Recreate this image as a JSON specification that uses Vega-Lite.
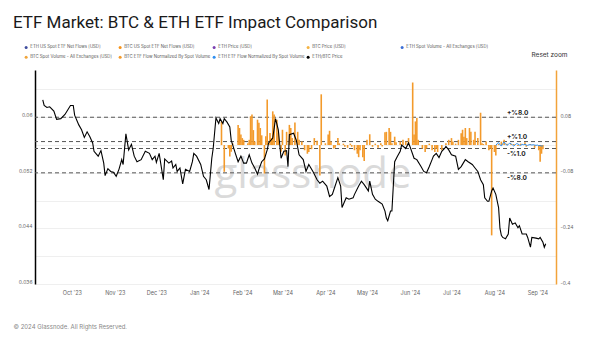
{
  "$schema": "https://vega.github.io/schema/vega-lite/v6.json",
  "width": 521,
  "height": 214,
  "autosize": {"type": "none"},
  "padding": {"left": 35, "top": 70, "right": 44, "bottom": 62},
  "background": "white",
  "title": {"text": "ETF Market: BTC & ETH ETF Impact Comparison", "anchor": "start", "frame": "group", "dx": -22, "dy": -9, "fontSize": 17, "font": "Roboto", "fontWeight": 400, "color": "#1a1a1a"},
  "config": {
    "view": {"stroke": null},
    "font": "Inter",
    "axisX": {"grid": false, "ticks": false, "domain": false, "labelFontSize": 5.5, "labelColor": "#666666", "labelPadding": 6, "labelFont": "Inter", "titleX": -22, "titleY": 42, "titleAlign": "left", "titleAnchor": "start", "titleBaseline": "middle", "titleFontSize": 6, "titleFontWeight": "normal", "titleColor": "#888888", "titleFont": "Inter"}
  },
  "datasets": {
    "wm": [{"wm": "glassnode"}],
    "levels": [
      {"level": 0.08, "label": "+%8.0"},
      {"level": 0.01, "label": "+%1.0"},
      {"level": -0.01, "label": "-%1.0"},
      {"level": -0.08, "label": "-%8.0"}
    ],
    "ethbtc": [
      {"date": "2023-09-10", "v": 0.0625}, {"date": "2023-09-11", "v": 0.0617}, {"date": "2023-09-13", "v": 0.0614}, {"date": "2023-09-15", "v": 0.0615},
      {"date": "2023-09-18", "v": 0.0609}, {"date": "2023-09-20", "v": 0.0597}, {"date": "2023-09-23", "v": 0.0598}, {"date": "2023-09-26", "v": 0.0604},
      {"date": "2023-09-30", "v": 0.0617}, {"date": "2023-10-02", "v": 0.0617}, {"date": "2023-10-03", "v": 0.0603}, {"date": "2023-10-06", "v": 0.0589},
      {"date": "2023-10-08", "v": 0.0582}, {"date": "2023-10-10", "v": 0.0571}, {"date": "2023-10-12", "v": 0.0579}, {"date": "2023-10-14", "v": 0.0572},
      {"date": "2023-10-16", "v": 0.0563}, {"date": "2023-10-17", "v": 0.0551}, {"date": "2023-10-20", "v": 0.0544}, {"date": "2023-10-22", "v": 0.0552},
      {"date": "2023-10-24", "v": 0.0534}, {"date": "2023-10-25", "v": 0.0516}, {"date": "2023-10-27", "v": 0.0526}, {"date": "2023-10-29", "v": 0.0522},
      {"date": "2023-10-31", "v": 0.0521}, {"date": "2023-11-02", "v": 0.0515}, {"date": "2023-11-04", "v": 0.0525}, {"date": "2023-11-06", "v": 0.0539},
      {"date": "2023-11-07", "v": 0.0532}, {"date": "2023-11-09", "v": 0.0576}, {"date": "2023-11-11", "v": 0.0553}, {"date": "2023-11-13", "v": 0.0561},
      {"date": "2023-11-15", "v": 0.0544}, {"date": "2023-11-17", "v": 0.0536}, {"date": "2023-11-20", "v": 0.0539}, {"date": "2023-11-23", "v": 0.0551},
      {"date": "2023-11-26", "v": 0.0548}, {"date": "2023-11-28", "v": 0.0539}, {"date": "2023-11-30", "v": 0.0544}, {"date": "2023-12-01", "v": 0.0535},
      {"date": "2023-12-03", "v": 0.0548}, {"date": "2023-12-06", "v": 0.0510}, {"date": "2023-12-07", "v": 0.0540}, {"date": "2023-12-10", "v": 0.0534},
      {"date": "2023-12-12", "v": 0.0537}, {"date": "2023-12-13", "v": 0.0527}, {"date": "2023-12-15", "v": 0.0532}, {"date": "2023-12-16", "v": 0.0522},
      {"date": "2023-12-18", "v": 0.0527}, {"date": "2023-12-20", "v": 0.0504}, {"date": "2023-12-22", "v": 0.0525}, {"date": "2023-12-25", "v": 0.0522},
      {"date": "2023-12-27", "v": 0.0536}, {"date": "2023-12-28", "v": 0.0548}, {"date": "2023-12-30", "v": 0.0544}, {"date": "2024-01-02", "v": 0.0532},
      {"date": "2024-01-04", "v": 0.0515}, {"date": "2024-01-06", "v": 0.0510}, {"date": "2024-01-08", "v": 0.0496}, {"date": "2024-01-10", "v": 0.0541},
      {"date": "2024-01-11", "v": 0.0555}, {"date": "2024-01-13", "v": 0.0599}, {"date": "2024-01-15", "v": 0.0591}, {"date": "2024-01-16", "v": 0.0598},
      {"date": "2024-01-18", "v": 0.0591}, {"date": "2024-01-19", "v": 0.0598}, {"date": "2024-01-21", "v": 0.0593}, {"date": "2024-01-23", "v": 0.0586},
      {"date": "2024-01-24", "v": 0.0567}, {"date": "2024-01-27", "v": 0.0548}, {"date": "2024-01-29", "v": 0.0536}, {"date": "2024-01-31", "v": 0.0544},
      {"date": "2024-02-02", "v": 0.0534}, {"date": "2024-02-04", "v": 0.0534}, {"date": "2024-02-06", "v": 0.0546}, {"date": "2024-02-08", "v": 0.0534},
      {"date": "2024-02-10", "v": 0.0527}, {"date": "2024-02-12", "v": 0.0518}, {"date": "2024-02-13", "v": 0.0525}, {"date": "2024-02-15", "v": 0.0536},
      {"date": "2024-02-17", "v": 0.0540}, {"date": "2024-02-19", "v": 0.0553}, {"date": "2024-02-20", "v": 0.0563}, {"date": "2024-02-23", "v": 0.0570},
      {"date": "2024-02-25", "v": 0.0598}, {"date": "2024-02-27", "v": 0.0582}, {"date": "2024-02-29", "v": 0.0541}, {"date": "2024-03-02", "v": 0.0551},
      {"date": "2024-03-04", "v": 0.0552}, {"date": "2024-03-05", "v": 0.0529}, {"date": "2024-03-06", "v": 0.0575}, {"date": "2024-03-09", "v": 0.0577},
      {"date": "2024-03-11", "v": 0.0567}, {"date": "2024-03-13", "v": 0.0546}, {"date": "2024-03-16", "v": 0.0539}, {"date": "2024-03-18", "v": 0.0522},
      {"date": "2024-03-20", "v": 0.0532}, {"date": "2024-03-23", "v": 0.0522}, {"date": "2024-03-26", "v": 0.0510}, {"date": "2024-03-28", "v": 0.0505},
      {"date": "2024-03-30", "v": 0.0508}, {"date": "2024-04-02", "v": 0.0501}, {"date": "2024-04-04", "v": 0.0486}, {"date": "2024-04-06", "v": 0.0489},
      {"date": "2024-04-08", "v": 0.0501}, {"date": "2024-04-10", "v": 0.0513}, {"date": "2024-04-12", "v": 0.0501}, {"date": "2024-04-13", "v": 0.0470},
      {"date": "2024-04-16", "v": 0.0484}, {"date": "2024-04-18", "v": 0.0482}, {"date": "2024-04-21", "v": 0.0484}, {"date": "2024-04-22", "v": 0.0489},
      {"date": "2024-04-25", "v": 0.0501}, {"date": "2024-04-27", "v": 0.0508}, {"date": "2024-04-29", "v": 0.0503}, {"date": "2024-05-02", "v": 0.0494},
      {"date": "2024-05-03", "v": 0.0508}, {"date": "2024-05-05", "v": 0.0489}, {"date": "2024-05-07", "v": 0.0482}, {"date": "2024-05-09", "v": 0.0479},
      {"date": "2024-05-12", "v": 0.0475}, {"date": "2024-05-14", "v": 0.0465}, {"date": "2024-05-15", "v": 0.0455}, {"date": "2024-05-16", "v": 0.0451},
      {"date": "2024-05-18", "v": 0.0465}, {"date": "2024-05-19", "v": 0.0465}, {"date": "2024-05-21", "v": 0.0536}, {"date": "2024-05-23", "v": 0.0544},
      {"date": "2024-05-25", "v": 0.0551}, {"date": "2024-05-26", "v": 0.0560}, {"date": "2024-05-29", "v": 0.0555}, {"date": "2024-05-31", "v": 0.0563},
      {"date": "2024-06-01", "v": 0.0558}, {"date": "2024-06-04", "v": 0.0541}, {"date": "2024-06-06", "v": 0.0539}, {"date": "2024-06-09", "v": 0.0529},
      {"date": "2024-06-11", "v": 0.0522}, {"date": "2024-06-13", "v": 0.0520}, {"date": "2024-06-15", "v": 0.0529}, {"date": "2024-06-17", "v": 0.0539},
      {"date": "2024-06-18", "v": 0.0544}, {"date": "2024-06-20", "v": 0.0548}, {"date": "2024-06-22", "v": 0.0542}, {"date": "2024-06-24", "v": 0.0551},
      {"date": "2024-06-26", "v": 0.0555}, {"date": "2024-06-27", "v": 0.0558}, {"date": "2024-06-29", "v": 0.0553}, {"date": "2024-07-01", "v": 0.0546},
      {"date": "2024-07-04", "v": 0.0544}, {"date": "2024-07-06", "v": 0.0525}, {"date": "2024-07-08", "v": 0.0529}, {"date": "2024-07-11", "v": 0.0539},
      {"date": "2024-07-13", "v": 0.0536}, {"date": "2024-07-16", "v": 0.0532}, {"date": "2024-07-18", "v": 0.0527}, {"date": "2024-07-20", "v": 0.0522},
      {"date": "2024-07-22", "v": 0.0510}, {"date": "2024-07-24", "v": 0.0503}, {"date": "2024-07-25", "v": 0.0484}, {"date": "2024-07-27", "v": 0.0479},
      {"date": "2024-07-28", "v": 0.0479}, {"date": "2024-07-30", "v": 0.0494}, {"date": "2024-07-31", "v": 0.0498}, {"date": "2024-08-02", "v": 0.0489},
      {"date": "2024-08-04", "v": 0.0470}, {"date": "2024-08-05", "v": 0.0440}, {"date": "2024-08-06", "v": 0.0430}, {"date": "2024-08-07", "v": 0.0427},
      {"date": "2024-08-09", "v": 0.0425}, {"date": "2024-08-11", "v": 0.0432}, {"date": "2024-08-12", "v": 0.0455}, {"date": "2024-08-14", "v": 0.0446},
      {"date": "2024-08-16", "v": 0.0448}, {"date": "2024-08-18", "v": 0.0441}, {"date": "2024-08-19", "v": 0.0444}, {"date": "2024-08-21", "v": 0.0432},
      {"date": "2024-08-24", "v": 0.0432}, {"date": "2024-08-25", "v": 0.0427}, {"date": "2024-08-27", "v": 0.0413}, {"date": "2024-08-28", "v": 0.0427},
      {"date": "2024-08-31", "v": 0.0426}, {"date": "2024-09-02", "v": 0.0425}, {"date": "2024-09-03", "v": 0.0427}, {"date": "2024-09-05", "v": 0.0420},
      {"date": "2024-09-06", "v": 0.0413}, {"date": "2024-09-07", "v": 0.0418}
    ],
    "btcflow": [
      {"date": "2024-01-17", "v": 0.068}, {"date": "2024-01-19", "v": -0.077}, {"date": "2024-01-22", "v": -0.01}, {"date": "2024-01-23", "v": -0.033},
      {"date": "2024-01-24", "v": -0.019}, {"date": "2024-01-25", "v": 0.005}, {"date": "2024-01-29", "v": 0.058}, {"date": "2024-01-30", "v": 0.049},
      {"date": "2024-01-31", "v": 0.03}, {"date": "2024-02-01", "v": 0.02}, {"date": "2024-02-02", "v": 0.015}, {"date": "2024-02-05", "v": 0.005},
      {"date": "2024-02-06", "v": 0.015}, {"date": "2024-02-07", "v": 0.083}, {"date": "2024-02-08", "v": 0.088}, {"date": "2024-02-09", "v": 0.043},
      {"date": "2024-02-10", "v": 0.01}, {"date": "2024-02-12", "v": 0.073}, {"date": "2024-02-13", "v": 0.064}, {"date": "2024-02-14", "v": 0.049},
      {"date": "2024-02-15", "v": 0.028}, {"date": "2024-02-17", "v": -0.082}, {"date": "2024-02-18", "v": 0.025}, {"date": "2024-02-19", "v": 0.131},
      {"date": "2024-02-21", "v": 0.035}, {"date": "2024-02-22", "v": 0.02}, {"date": "2024-02-23", "v": 0.097}, {"date": "2024-02-24", "v": 0.088},
      {"date": "2024-02-26", "v": 0.073}, {"date": "2024-02-27", "v": 0.035}, {"date": "2024-02-29", "v": -0.019}, {"date": "2024-03-01", "v": 0.044},
      {"date": "2024-03-03", "v": -0.03}, {"date": "2024-03-04", "v": 0.038}, {"date": "2024-03-06", "v": 0.058}, {"date": "2024-03-07", "v": 0.049},
      {"date": "2024-03-08", "v": 0.02}, {"date": "2024-03-10", "v": 0.065}, {"date": "2024-03-12", "v": 0.038}, {"date": "2024-03-13", "v": 0.015},
      {"date": "2024-03-15", "v": 0.01}, {"date": "2024-03-17", "v": -0.015}, {"date": "2024-03-19", "v": -0.025}, {"date": "2024-03-20", "v": -0.02},
      {"date": "2024-03-22", "v": -0.012}, {"date": "2024-03-24", "v": 0.02}, {"date": "2024-03-26", "v": 0.012}, {"date": "2024-03-28", "v": -0.088},
      {"date": "2024-03-29", "v": 0.146}, {"date": "2024-04-01", "v": 0.005}, {"date": "2024-04-03", "v": 0.03}, {"date": "2024-04-04", "v": 0.041},
      {"date": "2024-04-05", "v": 0.01}, {"date": "2024-04-07", "v": -0.01}, {"date": "2024-04-08", "v": -0.008}, {"date": "2024-04-10", "v": 0.02},
      {"date": "2024-04-11", "v": 0.005}, {"date": "2024-04-14", "v": 0.004}, {"date": "2024-04-15", "v": -0.005}, {"date": "2024-04-17", "v": -0.008},
      {"date": "2024-04-19", "v": 0.004}, {"date": "2024-04-20", "v": -0.005}, {"date": "2024-04-22", "v": -0.015}, {"date": "2024-04-24", "v": -0.025},
      {"date": "2024-04-25", "v": -0.035}, {"date": "2024-04-26", "v": -0.015}, {"date": "2024-04-28", "v": -0.035}, {"date": "2024-04-29", "v": -0.046},
      {"date": "2024-05-01", "v": 0.015}, {"date": "2024-05-03", "v": 0.031}, {"date": "2024-05-05", "v": -0.005}, {"date": "2024-05-07", "v": 0.004},
      {"date": "2024-05-09", "v": -0.008}, {"date": "2024-05-11", "v": 0.005}, {"date": "2024-05-12", "v": -0.004}, {"date": "2024-05-14", "v": 0.037},
      {"date": "2024-05-15", "v": 0.038}, {"date": "2024-05-17", "v": 0.049}, {"date": "2024-05-18", "v": 0.038}, {"date": "2024-05-19", "v": 0.005},
      {"date": "2024-05-21", "v": 0.024}, {"date": "2024-05-22", "v": 0.008}, {"date": "2024-05-25", "v": 0.01}, {"date": "2024-05-27", "v": 0.015},
      {"date": "2024-05-29", "v": 0.01}, {"date": "2024-05-31", "v": 0.02}, {"date": "2024-06-03", "v": 0.18}, {"date": "2024-06-04", "v": 0.03},
      {"date": "2024-06-05", "v": 0.068}, {"date": "2024-06-06", "v": 0.078}, {"date": "2024-06-07", "v": 0.015}, {"date": "2024-06-10", "v": -0.01},
      {"date": "2024-06-12", "v": -0.02}, {"date": "2024-06-13", "v": -0.01}, {"date": "2024-06-15", "v": 0.004}, {"date": "2024-06-17", "v": -0.015},
      {"date": "2024-06-19", "v": -0.02}, {"date": "2024-06-20", "v": -0.01}, {"date": "2024-06-21", "v": -0.02}, {"date": "2024-06-24", "v": -0.015},
      {"date": "2024-06-27", "v": 0.005}, {"date": "2024-06-29", "v": 0.015}, {"date": "2024-07-01", "v": 0.02}, {"date": "2024-07-02", "v": 0.01},
      {"date": "2024-07-04", "v": 0.004}, {"date": "2024-07-06", "v": 0.015}, {"date": "2024-07-08", "v": 0.034}, {"date": "2024-07-09", "v": 0.044},
      {"date": "2024-07-10", "v": 0.024}, {"date": "2024-07-11", "v": 0.049}, {"date": "2024-07-12", "v": 0.02}, {"date": "2024-07-14", "v": 0.049},
      {"date": "2024-07-15", "v": 0.038}, {"date": "2024-07-17", "v": 0.015}, {"date": "2024-07-18", "v": 0.038}, {"date": "2024-07-20", "v": 0.02},
      {"date": "2024-07-22", "v": 0.093}, {"date": "2024-07-23", "v": 0.005}, {"date": "2024-07-24", "v": 0.003}, {"date": "2024-07-26", "v": 0.01},
      {"date": "2024-07-28", "v": -0.015}, {"date": "2024-07-29", "v": -0.01}, {"date": "2024-07-30", "v": -0.26}, {"date": "2024-08-01", "v": -0.02},
      {"date": "2024-08-02", "v": -0.03}, {"date": "2024-08-04", "v": 0.003}, {"date": "2024-08-06", "v": 0.01}, {"date": "2024-08-08", "v": 0.015},
      {"date": "2024-08-10", "v": 0.004}, {"date": "2024-08-13", "v": 0.004}, {"date": "2024-08-15", "v": 0.003}, {"date": "2024-08-18", "v": -0.003},
      {"date": "2024-08-20", "v": 0.004}, {"date": "2024-08-23", "v": 0.008}, {"date": "2024-08-24", "v": -0.005}, {"date": "2024-08-27", "v": 0.003},
      {"date": "2024-08-30", "v": -0.008}, {"date": "2024-09-02", "v": -0.015}, {"date": "2024-09-03", "v": -0.048}, {"date": "2024-09-04", "v": -0.025},
      {"date": "2024-09-05", "v": -0.012}
    ],
    "ethflow": [
      {"date": "2024-08-02", "v": -0.001}, {"date": "2024-08-03", "v": 0.004}, {"date": "2024-08-04", "v": 0.007}, {"date": "2024-08-05", "v": 0.001},
      {"date": "2024-08-06", "v": -0.003}, {"date": "2024-08-07", "v": 0.004}, {"date": "2024-08-08", "v": 0.009}, {"date": "2024-08-09", "v": 0.003},
      {"date": "2024-08-10", "v": -0.001}, {"date": "2024-08-11", "v": 0.002}, {"date": "2024-08-12", "v": 0.005}, {"date": "2024-08-13", "v": 0.004},
      {"date": "2024-08-14", "v": 0.0}, {"date": "2024-08-15", "v": -0.003}, {"date": "2024-08-16", "v": 0.001}, {"date": "2024-08-17", "v": 0.004},
      {"date": "2024-08-18", "v": 0.003}, {"date": "2024-08-19", "v": 0.0}, {"date": "2024-08-20", "v": -0.001}, {"date": "2024-08-21", "v": 0.002},
      {"date": "2024-08-22", "v": 0.001}, {"date": "2024-08-23", "v": 0.002}, {"date": "2024-08-24", "v": 0.0}, {"date": "2024-08-25", "v": -0.001},
      {"date": "2024-08-26", "v": 0.001}, {"date": "2024-08-27", "v": 0.001}, {"date": "2024-08-28", "v": 0.0}, {"date": "2024-08-29", "v": 0.001},
      {"date": "2024-08-30", "v": 0.0}, {"date": "2024-08-31", "v": -0.001}, {"date": "2024-09-01", "v": 0.0}, {"date": "2024-09-02", "v": -0.002},
      {"date": "2024-09-03", "v": -0.001}, {"date": "2024-09-04", "v": -0.003}, {"date": "2024-09-05", "v": -0.002}
    ]
  },
  "layer": [
    {
      "data": {"name": "wm"},
      "mark": {"type": "text", "fontSize": 42, "font": "Open Sans", "fontWeight": 400, "color": "#dadada", "align": "center", "baseline": "middle"},
      "encoding": {
        "x": {"datum": {"year": 2024, "month": 3, "date": 23, "utc": true}, "type": "temporal", "scale": {"type": "utc", "domain": [{"year": 2023, "month": 9, "date": 8, "utc": true}, {"year": 2024, "month": 9, "date": 10, "hours": 20, "utc": true}]},
          "axis": {"values": [{"year": 2023, "month": 10, "date": 1, "utc": true}, {"year": 2023, "month": 11, "date": 1, "utc": true}, {"year": 2023, "month": 12, "date": 1, "utc": true}, {"year": 2024, "month": 1, "date": 1, "utc": true}, {"year": 2024, "month": 2, "date": 1, "utc": true}, {"year": 2024, "month": 3, "date": 1, "utc": true}, {"year": 2024, "month": 4, "date": 1, "utc": true}, {"year": 2024, "month": 5, "date": 1, "utc": true}, {"year": 2024, "month": 6, "date": 1, "utc": true}, {"year": 2024, "month": 7, "date": 1, "utc": true}, {"year": 2024, "month": 8, "date": 1, "utc": true}, {"year": 2024, "month": 9, "date": 1, "utc": true}], "labelExpr": "utcFormat(datum.value, \"%b '%y\")", "title": "© 2024 Glassnode. All Rights Reserved."}},
        "y": {"datum": 0.0517, "type": "quantitative", "scale": {"domain": [0.036, 0.0668]}, "axis": null},
        "text": {"field": "wm"}
      }
    },
    {
      "data": {"name": "levels"},
      "encoding": {"y": {"field": "level", "type": "quantitative", "scale": {"domain": [-0.4, 0.216]}, "axis": null}},
      "layer": [
        {"mark": {"type": "rule", "strokeDash": [4, 3], "color": "#555555", "strokeWidth": 1}},
        {
          "transform": [{"filter": "datum.level > 0"}],
          "mark": {"type": "text", "fontWeight": "bold", "fontSize": 6.5, "font": "Inter", "align": "left", "baseline": "bottom", "dy": -1.5, "color": "#222222"},
          "encoding": {
            "x": {"datum": {"year": 2024, "month": 8, "date": 10, "utc": true}, "type": "temporal", "scale": {"type": "utc", "domain": [{"year": 2023, "month": 9, "date": 8, "utc": true}, {"year": 2024, "month": 9, "date": 10, "hours": 20, "utc": true}]},
              "axis": {"values": [{"year": 2023, "month": 10, "date": 1, "utc": true}, {"year": 2023, "month": 11, "date": 1, "utc": true}, {"year": 2023, "month": 12, "date": 1, "utc": true}, {"year": 2024, "month": 1, "date": 1, "utc": true}, {"year": 2024, "month": 2, "date": 1, "utc": true}, {"year": 2024, "month": 3, "date": 1, "utc": true}, {"year": 2024, "month": 4, "date": 1, "utc": true}, {"year": 2024, "month": 5, "date": 1, "utc": true}, {"year": 2024, "month": 6, "date": 1, "utc": true}, {"year": 2024, "month": 7, "date": 1, "utc": true}, {"year": 2024, "month": 8, "date": 1, "utc": true}, {"year": 2024, "month": 9, "date": 1, "utc": true}], "labelExpr": "utcFormat(datum.value, \"%b '%y\")", "title": "© 2024 Glassnode. All Rights Reserved."}},
            "text": {"field": "label"}
          }
        },
        {
          "transform": [{"filter": "datum.level < 0"}],
          "mark": {"type": "text", "fontWeight": "bold", "fontSize": 6.5, "font": "Inter", "align": "left", "baseline": "top", "dy": 2, "color": "#222222"},
          "encoding": {
            "x": {"datum": {"year": 2024, "month": 8, "date": 10, "utc": true}, "type": "temporal", "scale": {"type": "utc", "domain": [{"year": 2023, "month": 9, "date": 8, "utc": true}, {"year": 2024, "month": 9, "date": 10, "hours": 20, "utc": true}]},
              "axis": {"values": [{"year": 2023, "month": 10, "date": 1, "utc": true}, {"year": 2023, "month": 11, "date": 1, "utc": true}, {"year": 2023, "month": 12, "date": 1, "utc": true}, {"year": 2024, "month": 1, "date": 1, "utc": true}, {"year": 2024, "month": 2, "date": 1, "utc": true}, {"year": 2024, "month": 3, "date": 1, "utc": true}, {"year": 2024, "month": 4, "date": 1, "utc": true}, {"year": 2024, "month": 5, "date": 1, "utc": true}, {"year": 2024, "month": 6, "date": 1, "utc": true}, {"year": 2024, "month": 7, "date": 1, "utc": true}, {"year": 2024, "month": 8, "date": 1, "utc": true}, {"year": 2024, "month": 9, "date": 1, "utc": true}], "labelExpr": "utcFormat(datum.value, \"%b '%y\")", "title": "© 2024 Glassnode. All Rights Reserved."}},
            "text": {"field": "label"}
          }
        }
      ]
    },
    {
      "data": {"name": "btcflow"},
      "mark": {"type": "bar", "size": 1.6},
      "encoding": {
        "x": {"field": "date", "type": "temporal", "scale": {"type": "utc", "domain": [{"year": 2023, "month": 9, "date": 8, "utc": true}, {"year": 2024, "month": 9, "date": 10, "hours": 20, "utc": true}]},
          "axis": {"values": [{"year": 2023, "month": 10, "date": 1, "utc": true}, {"year": 2023, "month": 11, "date": 1, "utc": true}, {"year": 2023, "month": 12, "date": 1, "utc": true}, {"year": 2024, "month": 1, "date": 1, "utc": true}, {"year": 2024, "month": 2, "date": 1, "utc": true}, {"year": 2024, "month": 3, "date": 1, "utc": true}, {"year": 2024, "month": 4, "date": 1, "utc": true}, {"year": 2024, "month": 5, "date": 1, "utc": true}, {"year": 2024, "month": 6, "date": 1, "utc": true}, {"year": 2024, "month": 7, "date": 1, "utc": true}, {"year": 2024, "month": 8, "date": 1, "utc": true}, {"year": 2024, "month": 9, "date": 1, "utc": true}], "labelExpr": "utcFormat(datum.value, \"%b '%y\")", "title": "© 2024 Glassnode. All Rights Reserved."}},
        "y": {"field": "v", "type": "quantitative", "scale": {"domain": [-0.4, 0.216]},
          "axis": {"orient": "right", "values": [-0.4, -0.24, -0.08, 0.08], "format": ".2~f", "labelExpr": "replace(datum.label, '\u2212', '-')", "grid": false, "ticks": false, "domain": true, "domainColor": "#f2a33a", "domainWidth": 1.5, "labelFontSize": 5, "labelColor": "#666666", "labelPadding": 4, "labelOffset": -2, "title": "Reset zoom", "titleAngle": 0, "titleX": -25, "titleY": -16, "titleAlign": "left", "titleBaseline": "middle", "titleFontSize": 6.5, "titleFontWeight": "normal", "titleColor": "#333333", "titleFont": "Inter"}},
        "color": {"datum": "BTC ETF Flow Normalized By Spot Volume", "type": "nominal",
          "scale": {"domain": ["ETH US Spot ETF Net Flows [USD]", "BTC US Spot ETF Net Flows [USD]", "ETH Price [USD]", "BTC Price [USD]", "ETH Spot Volume - All Exchanges [USD]", "BTC Spot Volume - All Exchanges [USD]", "BTC ETF Flow Normalized By Spot Volume", "ETH ETF Flow Normalized By Spot Volume", "ETH/BTC Price"],
                    "range": ["#3f4d9e", "#f7931a", "#7b3fb0", "#f5b342", "#3c6fd6", "#f0a43a", "#f39a2b", "#2f8ff0", "#000000"]},
          "legend": {"orient": "none", "legendX": -11, "legendY": -25, "direction": "horizontal", "columns": 5, "title": null, "symbolType": "circle", "symbolSize": 9, "symbolStrokeWidth": 0, "symbolOpacity": 1, "labelFontSize": 4.3, "labelColor": "#555555", "labelFont": "Inter", "labelLimit": 200, "gridAlign": "all", "columnPadding": 1, "rowPadding": 5, "labelOffset": 2, "padding": 0}}
      }
    },
    {
      "data": {"name": "ethflow"},
      "mark": {"type": "line", "strokeWidth": 1},
      "encoding": {
        "x": {"field": "date", "type": "temporal", "scale": {"type": "utc", "domain": [{"year": 2023, "month": 9, "date": 8, "utc": true}, {"year": 2024, "month": 9, "date": 10, "hours": 20, "utc": true}]},
          "axis": {"values": [{"year": 2023, "month": 10, "date": 1, "utc": true}, {"year": 2023, "month": 11, "date": 1, "utc": true}, {"year": 2023, "month": 12, "date": 1, "utc": true}, {"year": 2024, "month": 1, "date": 1, "utc": true}, {"year": 2024, "month": 2, "date": 1, "utc": true}, {"year": 2024, "month": 3, "date": 1, "utc": true}, {"year": 2024, "month": 4, "date": 1, "utc": true}, {"year": 2024, "month": 5, "date": 1, "utc": true}, {"year": 2024, "month": 6, "date": 1, "utc": true}, {"year": 2024, "month": 7, "date": 1, "utc": true}, {"year": 2024, "month": 8, "date": 1, "utc": true}, {"year": 2024, "month": 9, "date": 1, "utc": true}], "labelExpr": "utcFormat(datum.value, \"%b '%y\")", "title": "© 2024 Glassnode. All Rights Reserved."}},
        "y": {"field": "v", "type": "quantitative", "scale": {"domain": [-0.4, 0.216]}, "axis": null},
        "color": {"datum": "ETH ETF Flow Normalized By Spot Volume", "type": "nominal",
          "scale": {"domain": ["ETH US Spot ETF Net Flows [USD]", "BTC US Spot ETF Net Flows [USD]", "ETH Price [USD]", "BTC Price [USD]", "ETH Spot Volume - All Exchanges [USD]", "BTC Spot Volume - All Exchanges [USD]", "BTC ETF Flow Normalized By Spot Volume", "ETH ETF Flow Normalized By Spot Volume", "ETH/BTC Price"],
                    "range": ["#3f4d9e", "#f7931a", "#7b3fb0", "#f5b342", "#3c6fd6", "#f0a43a", "#f39a2b", "#2f8ff0", "#000000"]}}
      }
    },
    {
      "data": {"name": "ethbtc"},
      "mark": {"type": "line", "strokeWidth": 1.1},
      "encoding": {
        "x": {"field": "date", "type": "temporal", "scale": {"type": "utc", "domain": [{"year": 2023, "month": 9, "date": 8, "utc": true}, {"year": 2024, "month": 9, "date": 10, "hours": 20, "utc": true}]},
          "axis": {"values": [{"year": 2023, "month": 10, "date": 1, "utc": true}, {"year": 2023, "month": 11, "date": 1, "utc": true}, {"year": 2023, "month": 12, "date": 1, "utc": true}, {"year": 2024, "month": 1, "date": 1, "utc": true}, {"year": 2024, "month": 2, "date": 1, "utc": true}, {"year": 2024, "month": 3, "date": 1, "utc": true}, {"year": 2024, "month": 4, "date": 1, "utc": true}, {"year": 2024, "month": 5, "date": 1, "utc": true}, {"year": 2024, "month": 6, "date": 1, "utc": true}, {"year": 2024, "month": 7, "date": 1, "utc": true}, {"year": 2024, "month": 8, "date": 1, "utc": true}, {"year": 2024, "month": 9, "date": 1, "utc": true}], "labelExpr": "utcFormat(datum.value, \"%b '%y\")", "title": "© 2024 Glassnode. All Rights Reserved."}},
        "y": {"field": "v", "type": "quantitative", "scale": {"domain": [0.036, 0.0668]},
          "axis": {"orient": "left", "values": [0.036, 0.04, 0.044, 0.048, 0.052, 0.056, 0.06, 0.064], "format": ".3~f", "labelExpr": "round(datum.value * 1000) % 8 == 4 ? datum.label : ''", "grid": true, "gridColor": "#ebebeb", "gridWidth": 0.8, "ticks": false, "domain": true, "domainColor": "#000000", "domainWidth": 1.5, "labelFontSize": 5, "labelColor": "#666666", "labelFont": "Inter", "labelPadding": 3, "labelOffset": -2.5, "title": null}},
        "color": {"datum": "ETH/BTC Price", "type": "nominal",
          "scale": {"domain": ["ETH US Spot ETF Net Flows [USD]", "BTC US Spot ETF Net Flows [USD]", "ETH Price [USD]", "BTC Price [USD]", "ETH Spot Volume - All Exchanges [USD]", "BTC Spot Volume - All Exchanges [USD]", "BTC ETF Flow Normalized By Spot Volume", "ETH ETF Flow Normalized By Spot Volume", "ETH/BTC Price"],
                    "range": ["#3f4d9e", "#f7931a", "#7b3fb0", "#f5b342", "#3c6fd6", "#f0a43a", "#f39a2b", "#2f8ff0", "#000000"]}}
      }
    }
  ],
  "resolve": {"scale": {"y": "independent"}}
}
